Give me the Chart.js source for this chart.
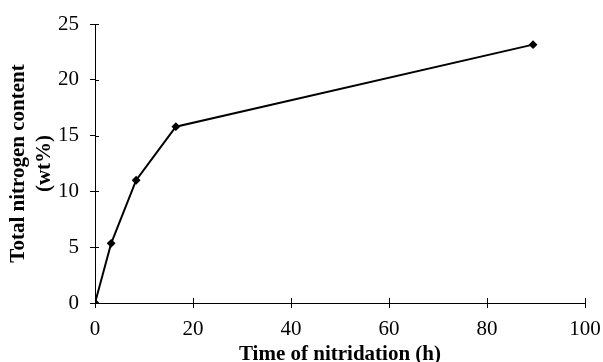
<!DOCTYPE html>
<html>
<head>
<meta charset="utf-8">
<script src="https://cdn.jsdelivr.net/npm/chart.js@4"></script>
<style>
  html, body { margin: 0; padding: 0; background: #fff; }
  #wrap { width: 603px; height: 362px; }
</style>
</head>
<body>
<div id="wrap"><canvas id="myChart" width="603" height="362"></canvas></div>
<script>
const timeHours = [0, 3.3, 8.4, 16.5, 89.4];
const nitrogenWt = [0, 5.35, 11.0, 15.8, 23.15];
const xTicks = [0, 20, 40, 60, 80, 100];
const yTicks = [0, 5, 10, 15, 20, 25];

const serif = "'Liberation Serif', 'Times New Roman', serif";

// crossing tick marks (the part inside the plot area)
const innerTicks = {
    id: 'innerTicks',
    afterDraw(chart) {
        const ctx = chart.ctx
        const xs = chart.scales.x
        const ys = chart.scales.y
        ctx.save()
        ctx.strokeStyle = '#000'
        ctx.lineWidth = 1
        ctx.beginPath()
        xTicks.forEach(v => {
            const px = Math.round(xs.getPixelForValue(v)) + 0.5
            ctx.moveTo(px, ys.bottom)
            ctx.lineTo(px, ys.bottom - 5)
        })
        yTicks.forEach(v => {
            const py = Math.round(ys.getPixelForValue(v)) + 0.5
            ctx.moveTo(xs.left, py)
            ctx.lineTo(xs.left + 4, py)
        })
        ctx.stroke()
        ctx.restore()
    }
}

const data = {
    datasets: [{
        data: timeHours.map((t, i) => ({ x: t, y: nitrogenWt[i] })),
        borderColor: '#000',
        backgroundColor: '#000',
        borderWidth: 2,
        pointStyle: 'rectRot',
        pointRadius: 3,
        pointHoverRadius: 3,
        tension: 0,
        fill: false
    }]
};

const config = {
    type: 'line',
    data: data,
    plugins: [innerTicks],
    options: {
        responsive: false,
        animation: false,
        layout: { padding: { left: 0, right: 18, top: 24, bottom: 0 } },
        plugins: {
            legend: { display: false },
            tooltip: { enabled: false }
        },
        scales: {
            x: {
                type: 'linear',
                min: 0,
                max: 100,
                afterBuildTicks: s => { s.ticks = xTicks.map(v => ({ value: v })) },
                afterFit: s => { s.height = 59; s.paddingRight = 0; s.paddingLeft = 0 },
                grid: { drawOnChartArea: false, color: '#000', tickLength: 5, tickColor: '#000' },
                border: { color: '#000', width: 1 },
                ticks: { color: '#000', font: { family: serif, size: 21 }, padding: 9, maxRotation: 0 },
                title: {
                    display: true,
                    text: 'Time of nitridation (h)',
                    color: '#000',
                    font: { family: serif, size: 21, weight: 'bold', lineHeight: 1.0 },
                    padding: { top: 0, bottom: -3 }
                }
            },
            y: {
                min: 0,
                max: 25,
                afterBuildTicks: s => { s.ticks = yTicks.map(v => ({ value: v })) },
                afterFit: s => { s.width = 95 },
                grid: { drawOnChartArea: false, color: '#000', tickLength: 5, tickColor: '#000' },
                border: { color: '#000', width: 1 },
                ticks: { color: '#000', font: { family: serif, size: 21 }, padding: 11 },
                title: {
                    display: true,
                    text: ['Total nitrogen content', '(wt%)'],
                    color: '#000',
                    font: { family: serif, size: 21, weight: 'bold', lineHeight: 1.25 },
                    padding: { top: 5, bottom: 0 }
                }
            }
        }
    }
};

new Chart(document.getElementById('myChart'), config)
</script>
</body>
</html>
